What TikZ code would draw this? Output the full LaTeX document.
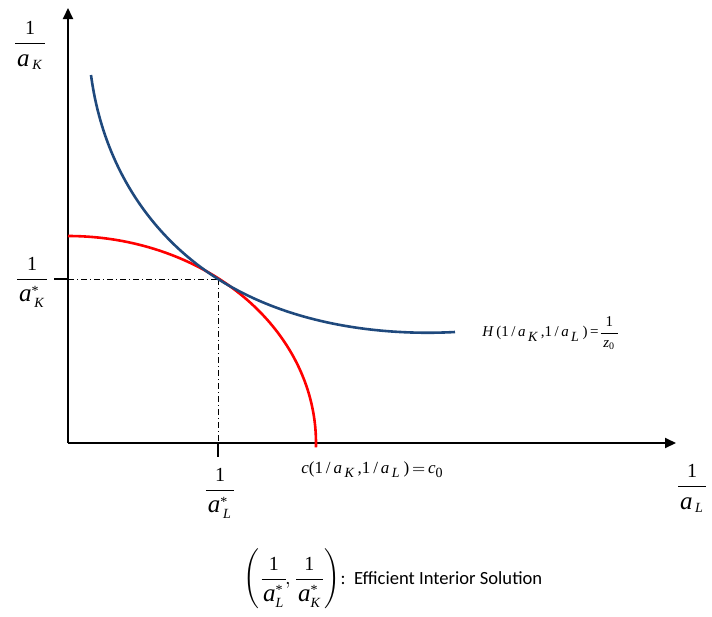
\documentclass[tikz,border=0pt]{standalone}
\usepackage{amsmath}
\usepackage{fontspec}
\setmainfont{Liberation Serif}
\newfontfamily\calib{Carlito}
\usetikzlibrary{arrows.meta}
\newcommand{\biga}{\text{\fontsize{12.5}{12}\selectfont\textit{a}}}
\newcommand{\itsub}[1]{\textit{\scriptsize #1}}
\newcommand{\numone}{\rule[-2pt]{0pt}{9pt}\text{1}}
\newcommand{\stara}[1]{\hspace{1pt}\biga^{\raisebox{-1.5pt}{\scriptsize *}}_{\,\itsub{#1}}\rule{0pt}{10pt}\hspace{1pt}}
\newcommand{\staratight}[1]{\hspace{0.8pt}\biga^{\raisebox{-1.5pt}{\scriptsize *}}_{\itsub{#1}}\rule{0pt}{10pt}\hspace{0.8pt}}
\newcommand{\plaina}[1]{\hspace{1pt}\biga_{\,\itsub{#1}}\rule{0pt}{10pt}\hspace{1pt}}
\begin{document}
\begin{tikzpicture}[x=0.5pt,y=-0.5pt,
  axis/.style={line width=1pt,-{Triangle[length=5.5pt,width=5pt]}},
  tickmark/.style={line width=1.1pt},
  dashdot/.style={line width=0.5pt,dash pattern=on 3pt off 1.5pt on 0.5pt off 1.5pt},
  bluecurve/.style={line width=1.3pt,draw=curveblue},
  redcurve/.style={line width=1.3pt,draw=red},
  lab/.style={inner sep=0pt,font=\fontsize{10}{12}\selectfont},
  smalllab/.style={inner sep=0pt,font=\fontsize{7.5}{9}\selectfont}]
\definecolor{curveblue}{RGB}{31,73,125}
\useasboundingbox (0,0) rectangle (712,616);
% axes
\coordinate (O) at (68,443);
\coordinate (Ytop) at (68,8);
\coordinate (Xend) at (676,443);
\draw[axis] (O) -- (Ytop);
\draw[axis] (O) -- (Xend);
% tangency point and ticks
\coordinate (T) at (218,279);
\coordinate (TK) at (68,279);
\coordinate (TL) at (218,443);
\coordinate (TKtick) at (54,279);
\coordinate (TLtick) at (218,457);
\draw[dashdot] (TK) -- (T);
\draw[dashdot] (T) -- (TL);
\draw[tickmark] (TKtick) -- (TK);
\draw[tickmark] (TL) -- (TLtick);
% red curve: quarter ellipse
\draw[redcurve] (68,236) arc[start angle=90,end angle=-1.2,x radius=248,y radius=-207];
% blue curve
\draw[bluecurve] (91,75) .. controls (103,165) and (150,236) .. (T)
                 .. controls (300,331) and (400,335) .. (455,332);
% labels
\node[lab] (yl) at (30,45) {$\displaystyle\frac{\numone}{\plaina{K}}$};
\node[lab] (yk) at (32,282) {$\displaystyle\frac{\numone}{\stara{K}}$};
\node[lab] (xl) at (220,493) {$\displaystyle\frac{\numone}{\stara{L}}$};
\node[lab] (xa) at (692,488) {$\displaystyle\frac{\numone}{\plaina{L}}$};
\node[smalllab,anchor=west] (hl) at (482,333) {\textit{H}\,(1\,/\,\textit{a}$_{\,\itsub{K}}$\,,1\,/\,\textit{a}$_{\,\itsub{L}}$\,)\,=\,$\!\displaystyle\frac{\text{1}}{\,\textit{z}_{\text{\tiny 0}}\,}$};
\node[smalllab,anchor=west,font=\fontsize{8.5}{10}\selectfont] (cl) at (301,470) {\textit{c}(1\,/\,\textit{a}$_{\,\itsub{K}}$\,,1\,/\,\textit{a}$_{\,\itsub{L}}$\,)$\,=\,$\textit{c}$_{\text{\scriptsize 0}}$};
\node[lab,anchor=west] (sol) at (243,579) {$\displaystyle\left(\frac{\numone}{\staratight{L}}\!,\frac{\numone}{\staratight{K}}\right)$\calib\fontsize{9.3}{12}\selectfont:\ \ Efficient Interior Solution};
\end{tikzpicture}
\end{document}
